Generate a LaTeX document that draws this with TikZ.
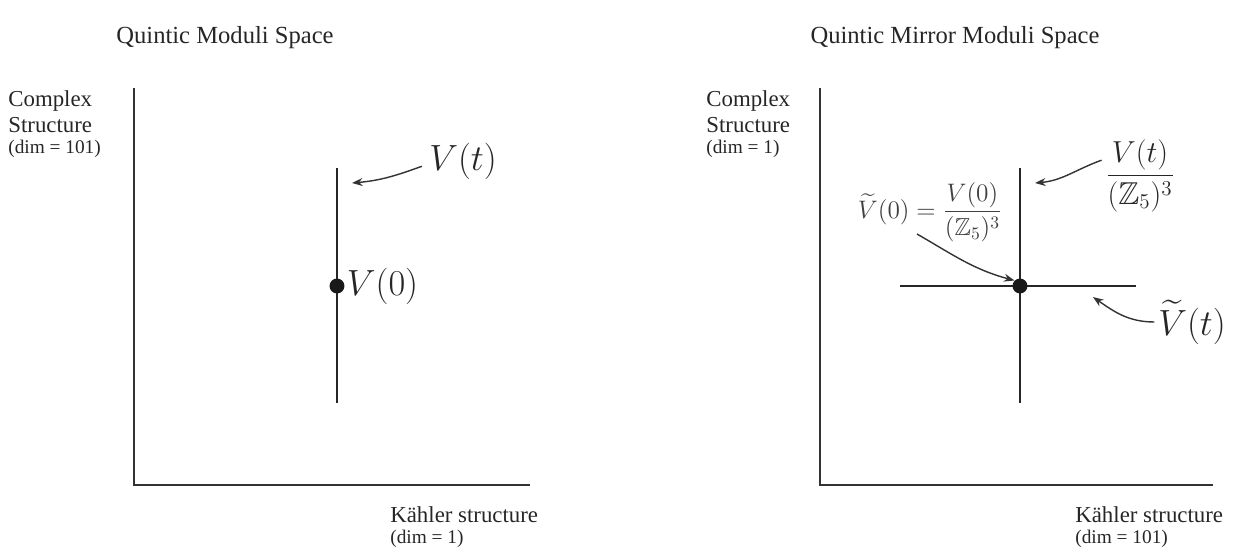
\documentclass[tikz,border=0pt]{standalone}
\usepackage{amsmath,amssymb}
\usepackage[no-math]{fontspec}
\setmainfont{Liberation Serif}
\usetikzlibrary{arrows.meta}

\begin{document}
\begin{tikzpicture}[x=0.02cm,y=-0.02cm,
    axis/.style={line width=1.4pt, black!80},
    locus/.style={line width=1.4pt, black!85},
    pointer/.style={line width=0.8pt, black!80, -{Stealth[length=6pt,width=4.5pt]}},
    title/.style={font=\fontsize{14}{16}\selectfont, text=black!85, inner sep=0pt},
    axlabel/.style={align=left, anchor=north west, inner sep=0pt, text=black!85, font=\fontsize{13}{15}\selectfont},
    big/.style={font=\fontsize{20}{24}\selectfont, inner sep=0pt, text=black!85},
    dot/.style={circle, fill=black!90, inner sep=0pt, minimum size=8.5pt}]
  \useasboundingbox (0,0) rectangle (1241,553);

  % Left: Quintic
  \node[title] (titleL) at (225,38) {Quintic Moduli Space};
  \coordinate (topL) at (134,88);
  \coordinate (oL) at (134,485);
  \coordinate (endL) at (530,485);
  \draw[axis] (topL) -- (oL) -- (endL);
  \node[axlabel] (cxL) at (8,90) {Complex\\Structure\\[-3pt]{\fontsize{11}{13}\selectfont (dim = 101)}};
  \node[axlabel] (khL) at (390,506) {Kähler structure\\[-3pt]{\fontsize{11}{13}\selectfont (dim = 1)}};

  \coordinate (vtopL) at (337,168);
  \coordinate (vbotL) at (337,403);
  \draw[locus] (vtopL) -- (vbotL);
  \node[dot] (dotL) at (337,286) {};
  \node[big, anchor=west] (v0L) at ([xshift=1pt]dotL.east) {$V(0)$};
  \node[big] (vtL) at (463,161) {$V(t)$};
  \coordinate (tipL) at (352,183);
  \draw[pointer] ([xshift=-4pt,yshift=-3pt]vtL.west) to[out=200, in=5] (tipL);

  % Right: Mirror
  \node[title] (titleR) at (955,38) {Quintic Mirror Moduli Space};
  \coordinate (topR) at (820,88);
  \coordinate (oR) at (820,485);
  \coordinate (endR) at (1213,485);
  \draw[axis] (topR) -- (oR) -- (endR);
  \node[axlabel] (cxR) at (706,90) {Complex\\Structure\\[-3pt]{\fontsize{11}{13}\selectfont (dim = 1)}};
  \node[axlabel] (khR) at (1075,506) {Kähler structure\\[-3pt]{\fontsize{11}{13}\selectfont (dim = 101)}};

  \coordinate (vtopR) at (1020,168);
  \coordinate (vbotR) at (1020,403);
  \coordinate (hlftR) at (900,286);
  \coordinate (hrgtR) at (1136,286);
  \draw[locus] (vtopR) -- (vbotR);
  \draw[locus] (hlftR) -- (hrgtR);
  \node[dot] (dotR) at (1020,286) {};

  \node[font=\fontsize{18}{22}\selectfont, inner sep=0pt, text=black!85] (vtR) at (1140,176) {$\dfrac{V(t)}{(\mathbb{Z}_5)^3}$};
  \coordinate (tipR) at (1035,183);
  \draw[pointer] ([xshift=-2pt,yshift=9pt]vtR.west) to[out=200, in=5] (tipR);

  \node[font=\fontsize{14}{16}\selectfont, inner sep=0pt, text=black!75] (v0R) at (930,212) {$\widetilde{V}(0)=\dfrac{V(0)}{(\mathbb{Z}_5)^3}$};
  \draw[pointer] (917,234) to[out=-30, in=165] (dotR.north west);

  \node[big] (wtR) at (1192,322) {$\widetilde{V}(t)$};
  \coordinate (tipW) at (1093,297);
  \draw[pointer] ([xshift=-2pt]wtR.west) to[out=180, in=-35] (tipW);
\end{tikzpicture}
\end{document}
